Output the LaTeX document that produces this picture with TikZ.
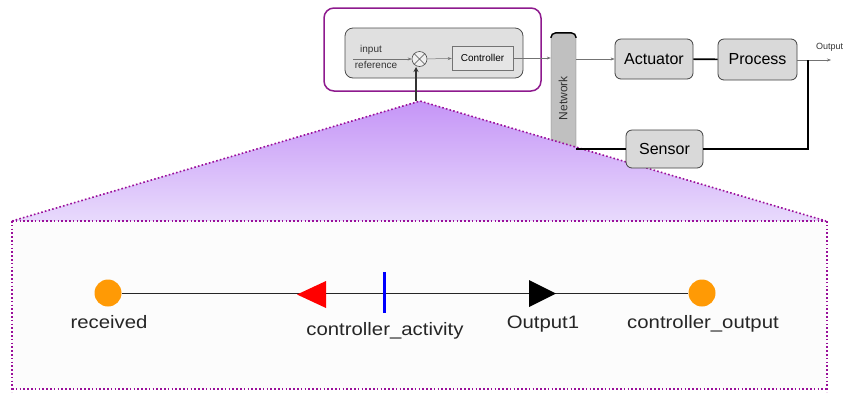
\documentclass[tikz,border=0pt]{standalone}
\usepackage{fontspec}
\setmainfont{Liberation Sans}
\usepackage{tikz}
\usetikzlibrary{positioning}
\usetikzlibrary{arrows.meta}

\definecolor{boxgray}{HTML}{D9D9D9}
\definecolor{netgray}{HTML}{C0C0C0}
\definecolor{zoompurple}{HTML}{8E1A8E}
\definecolor{dotpurple}{HTML}{9A0F9A}
\definecolor{tritop}{HTML}{C595F7}
\definecolor{tribottom}{HTML}{E8DAFC}
\definecolor{dotorange}{HTML}{FF9A05}

\begin{document}
\begin{tikzpicture}[
                x=1pt, y=-1pt,
                >=Stealth,
                % Define styles for nodes
                block/.style={draw=black!75, fill=boxgray, rounded corners=6pt, line width=0.8pt, font=\fontsize{16}{18}\selectfont},
                small block/.style={draw=black!55, fill=black!10, line width=0.5pt, font=\fontsize{10}{12}\selectfont},
                signal/.style={->, draw=black!55, line width=0.5pt, >={Stealth[length=4pt,width=3pt]}},
                link/.style={draw=black, line width=1.6pt},
                dotted edge/.style={draw=dotpurple, line width=1.6pt, dash pattern=on 1.6pt off 2.2pt},
                event dot/.style={circle, fill=dotorange, minimum size=27pt, inner sep=0pt},
                event label/.style={anchor=base, xscale=1.13, font=\fontsize{18}{20}\selectfont, text=black!85}
            ]
                \useasboundingbox (0,0) rectangle (846,392);

                % Network bar (partly hidden by the zoom wedge)
                \node[draw=black!60, fill=netgray, rounded corners=5pt, minimum width=25pt, minimum height=130pt, inner sep=0pt] (net) at (563.5,98) {};
                \draw[line width=1.4pt, rounded corners=5pt] ([yshift=-5pt]net.north west) |- (net.north) -| ([yshift=-5pt]net.north east);
                \node[rotate=90, font=\fontsize{12}{14}\selectfont, text=black!80] (netlabel) at (563,98) {Network};

                % Zoom wedge and detail frame
                \coordinate (apex) at (420,101);
                \coordinate (wl) at (12,221);
                \coordinate (wr) at (826,221);
                \shade[top color=tritop, bottom color=tribottom] (apex) -- (wr) -- (wl) -- cycle;
                \fill[white!99!black] (12,221) rectangle (827,389);
                \draw[dotted edge] (wl) -- (apex) -- (wr);
                \draw[dotted edge] (wl) -- (wr);
                \draw[dotted edge] (12,221) -- (12,392);
                \draw[dotted edge] (827,221) -- (827,392);
                \draw[dotted edge] (12,389) -- (827,389);

                % Controller area
                \node[draw=zoompurple, rounded corners=10pt, line width=1.5pt, minimum width=217pt, minimum height=83pt] (zoombox) at (432.5,49.5) {};
                \node[draw=black!70, fill=black!12, rounded corners=8pt, line width=0.8pt, minimum width=178pt, minimum height=50pt] (ctrlarea) at (434,53) {};
                \node[circle, draw=black!70, fill=black!6, minimum size=15pt, inner sep=0pt, line width=0.6pt] (mix) at (419.5,59) {};
                \draw[black!70, line width=0.6pt] (mix.north west) -- (mix.south east);
                \draw[black!70, line width=0.6pt] (mix.north east) -- (mix.south west);
                \node[small block, minimum width=61pt, minimum height=24pt] (ctrl) at (482.5,58) {Controller};
                \node[font=\fontsize{10}{12}\selectfont, text=black!80] (inlabel) at (371,50) {input};
                \node[font=\fontsize{10}{12}\selectfont, text=black!80] (reflabel) at (376,65) {reference};
                \coordinate (inref) at (353,59);

                % Plant
                \node[block, minimum width=78pt, minimum height=40pt] (act) at (654,59) {Actuator};
                \node[block, minimum width=79pt, minimum height=41pt] (proc) at (757.5,59.5) {Process};
                \node[block, minimum width=77pt, minimum height=38pt] (sens) at (664.5,149) {Sensor};
                \coordinate (tap) at (808,60);
                \coordinate (outend) at (831,60);
                \node[anchor=west, inner sep=1pt, font=\fontsize{9}{11}\selectfont, text=black!80] (outlabel) at (815,47) {Output};

                % Draw connections
                \draw[signal] (inref) -- (mix);
                \draw[signal] (mix) -- (ctrl);
                \draw[signal] (ctrl.east) -- (ctrl.east -| net.west);
                \draw[signal] (act.west -| net.east) -- (act.west);
                \draw[link] (act) -- (proc);
                \draw[signal] (proc.east |- outend) -- (outend);
                \draw[link] (tap) |- (sens.east);
                \draw[link] (sens.west) -- (sens.west -| net.east);
                \draw[black!80, line width=1.4pt, ->, >={Stealth[length=5pt,width=5pt]}] (416,101) -- (416,67);

                % Event timeline
                \node[event dot] (rcv) at (108,293) {};
                \node[event dot] (cout) at (702,293) {};
                \draw[black!85, line width=1pt] (rcv) -- (cout);
                \coordinate (redtip) at (297,294.5);
                \fill[red] (redtip) -- ++(29,-13.5) -- ++(0,27) -- cycle;
                \coordinate (blacktip) at (556,293.5);
                \fill[black] (blacktip) -- ++(-27,-13.5) -- ++(0,27) -- cycle;
                \draw[blue, line width=3pt] (384,272) -- (384,313);

                % Labels
                \node[event label] (rcvlabel) at (109,328) {received};
                \node[event label] (actlabel) at (385,335) {controller\_activity};
                \node[event label] (outonelabel) at (543,328) {Output1};
                \node[event label] (coutlabel) at (703,328) {controller\_output};
            \end{tikzpicture}
\end{document}
